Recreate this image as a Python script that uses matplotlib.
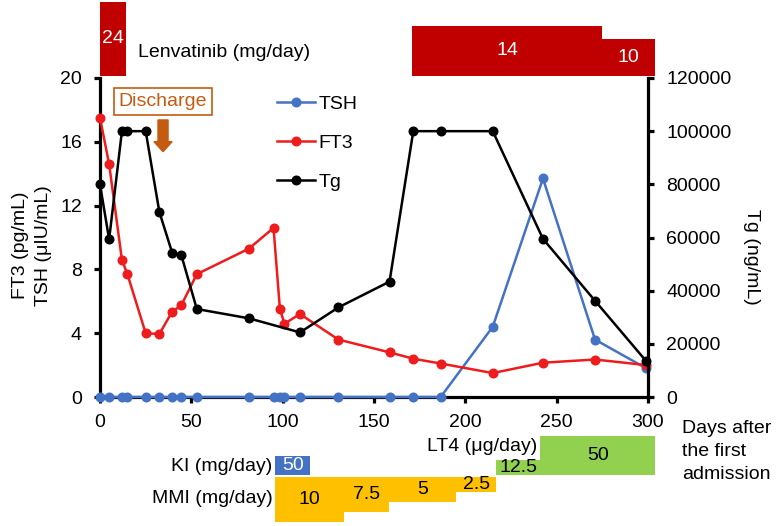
import matplotlib
matplotlib.use("Agg")
import matplotlib.pyplot as plt
from matplotlib.patches import FancyArrow

plt.rcParams['font.family'] = ['Liberation Sans', 'DejaVu Sans']

# ---------------- data ----------------
days_ft3 = [0, 5, 12, 15, 25, 32.5, 39.5, 44.5, 53, 81.5, 95, 98.5, 101, 109.5,
            130.5, 158.5, 171.5, 186.5, 215, 242.5, 271, 299]
ft3 = [17.5, 14.6, 8.6, 7.7, 4.0, 3.95, 5.35, 5.75, 7.7, 9.3, 10.6, 5.5, 4.6, 5.2,
       3.6, 2.8, 2.4, 2.1, 1.5, 2.15, 2.35, 2.0]

days_tsh = days_ft3
tsh = [0, 0, 0, 0, 0, 0, 0, 0, 0, 0, 0, 0, 0, 0,
       0, 0, 0, 0, 4.4, 13.7, 3.6, 1.8]

days_tg = [0, 5, 12, 15, 25, 32.5, 39.5, 44.5, 53, 81.5, 109.5, 130.5, 158.5,
           171.5, 186.5, 215, 242.5, 271, 299]
tg = [80000, 59300, 100000, 100000, 100000, 69600, 54300, 53400, 33100, 29600,
      24300, 33700, 43400, 100000, 100000, 100000, 59500, 36200, 13500]

lenva_start = [0, 171, 275]
lenva_end = [14, 275, 304]
lenva_dose = [24, 14, 10]

ki_start = [96]
ki_end = [115]
ki_dose = [50]

mmi_start = [96, 133.5, 158, 195]
mmi_end = [133.5, 158, 195, 217]
mmi_dose = [10, 7.5, 5, 2.5]

lt4_start = [217, 241]
lt4_end = [241, 304]
lt4_dose = [12.5, 50]

discharge_day = 34.5

x_ticks = [0, 50, 100, 150, 200, 250, 300]
y_ticks = [0, 4, 8, 12, 16, 20]
tg_ticks = [0, 20000, 40000, 60000, 80000, 100000, 120000]

# ---------------- style ----------------
C_TSH = '#4472C4'
C_FT3 = '#EE1C1C'
C_TG = '#000000'
C_LENVA = '#C00000'
C_KI = '#4472C4'
C_MMI = '#FFC000'
C_LT4 = '#92D050'
C_DIS = '#C55A11'
FS = 14

# bar vertical extents in left-axis units (layout)
lenva_top = [24.76, 23.26, 22.45]
lenva_bottom = 20.15
ki_y = (-4.89, -3.70)
lt4_top = [-3.95, -2.45]
lt4_bottom = -4.89
mmi_top = -5.02
mmi_bottom = [-7.84, -7.21, -6.58, -5.96]

fig = plt.figure(figsize=(7.8, 5.26), dpi=100)
ax = fig.add_axes([100/780, 1-397/526, 548/780, 319/526])
ax2 = ax.twinx()

# lines
l_tsh, = ax.plot(days_tsh, tsh, color=C_TSH, lw=1.8, marker='o', ms=6.2,
                 clip_on=False, zorder=3, label='TSH')
l_ft3, = ax.plot(days_ft3, ft3, color=C_FT3, lw=1.8, marker='o', ms=6.2,
                 clip_on=False, zorder=4, label='FT3')
l_tg, = ax2.plot(days_tg, tg, color=C_TG, lw=1.8, marker='o', ms=6.2,
                 clip_on=False, zorder=5, label='Tg')

ax.set_xlim(0, 300)
ax.set_ylim(0, 20)
ax2.set_ylim(0, 120000)
ax.set_xticks(x_ticks)
ax.set_yticks(y_ticks)
ax2.set_yticks(tg_ticks)
ax.set_yticklabels([str(v) for v in y_ticks])
ax2.set_yticklabels([str(v) for v in tg_ticks])

for a in (ax, ax2):
    a.spines['top'].set_visible(False)
    a.patch.set_visible(False)
ax.spines['right'].set_visible(False)
ax2.spines['left'].set_visible(False)
ax2.spines['bottom'].set_visible(False)
for s in ('left', 'bottom'):
    ax.spines[s].set_linewidth(2.3)
ax2.spines['right'].set_linewidth(2.3)

ax.tick_params(axis='both', labelsize=FS, width=2.3, length=4, direction='out')
ax.tick_params(axis='y', pad=9)
ax.tick_params(axis='x', pad=8)
ax2.tick_params(axis='y', labelsize=FS, width=2.3, length=4, direction='out', pad=9)

ax.set_ylabel('FT3 (pg/mL)\nTSH (\u03bcIU/mL)', fontsize=FS, linespacing=1.5)
ax.yaxis.set_label_coords(-0.087, 0.476)
ax2.set_ylabel('Tg (ng/mL)', fontsize=FS, rotation=270, va='center')
ax2.yaxis.set_label_coords(1.188, 0.439)

# legend
ax.legend(handles=[l_tsh, l_ft3, l_tg], loc='upper left',
          bbox_to_anchor=(277/780, 1-95/526), bbox_transform=fig.transFigure,
          frameon=False, fontsize=FS, handlelength=1.95, handletextpad=0.2,
          labelspacing=1.1, borderaxespad=0, borderpad=0)

# Lenvatinib bars
for s, e, d, t in zip(lenva_start, lenva_end, lenva_dose, lenva_top):
    ax.bar(s, t - lenva_bottom, width=e - s, bottom=lenva_bottom, align='edge',
           color=C_LENVA, clip_on=False, zorder=2)
    ax.text((s + e) / 2, (t + lenva_bottom) / 2, f'{d:g}', color='white',
            ha='center', va='center', fontsize=FS, clip_on=False)
ax.text(20.8, 21.57, 'Lenvatinib (mg/day)', fontsize=FS, ha='left', va='center')

# KI
for s, e, d in zip(ki_start, ki_end, ki_dose):
    ax.bar(s, ki_y[1] - ki_y[0], width=e - s, bottom=ki_y[0], align='edge',
           color=C_KI, clip_on=False)
    ax.text((s + e) / 2, sum(ki_y) / 2, f'{d:g}', color='white',
            ha='center', va='center', fontsize=FS)
ax.text(94.5, -4.33, 'KI (mg/day)', fontsize=FS, ha='right', va='center')

# MMI
for s, e, d, b in zip(mmi_start, mmi_end, mmi_dose, mmi_bottom):
    ax.bar(s, mmi_top - b, width=e - s, bottom=b, align='edge',
           color=C_MMI, clip_on=False)
    ax.text((s + e) / 2, (mmi_top + b) / 2, f'{d:g}', color='black',
            ha='center', va='center', fontsize=FS)
ax.text(94.5, -6.35, 'MMI (mg/day)', fontsize=FS, ha='right', va='center')

# LT4
for s, e, d, t in zip(lt4_start, lt4_end, lt4_dose, lt4_top):
    ax.bar(s, t - lt4_bottom, width=e - s, bottom=lt4_bottom, align='edge',
           color=C_LT4, clip_on=False)
    ax.text((s + e) / 2, (t + lt4_bottom) / 2, f'{d:g}', color='black',
            ha='center', va='center', fontsize=FS)
ax.text(239.5, -3.13, 'LT4 (\u03bcg/day)', fontsize=FS, ha='right', va='center')

ax.text(318.5, -3.4, 'Days after\nthe first\nadmission', fontsize=FS,
        ha='left', va='center', linespacing=1.45)

# Discharge
ax.text(discharge_day, 18.53, 'Discharge', color=C_DIS, fontsize=FS,
        ha='center', va='center',
        bbox=dict(boxstyle='square,pad=0.25', fc='white', ec=C_DIS, lw=1.2))
ax.add_patch(FancyArrow(discharge_day, 17.37, 0, -1.99, width=5.5,
                        head_width=10, head_length=0.63,
                        length_includes_head=True, color=C_DIS, zorder=6))

fig.savefig('out.png', dpi=100)
